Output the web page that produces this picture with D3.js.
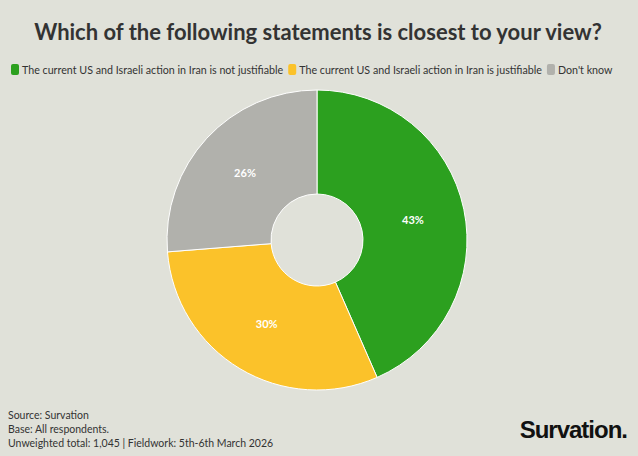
<!DOCTYPE html>
<html><head><meta charset="utf-8">
<script src="https://cdn.jsdelivr.net/npm/d3@7"></script>
<style>body{margin:0;background:#e0e1d9;font-family:Lato,"Open Sans",sans-serif}</style>
</head><body><div id="chart"></div>
<script>
// data
var labels = ["The current US and Israeli action in Iran is not justifiable",
              "The current US and Israeli action in Iran is justifiable",
              "Don't know"];
var values = [43, 30, 26];
var colors = ["#2ca01f", "#fbc22a", "#b1b1ac"];

var svg = d3.select("#chart").append("svg").attr("width", 638).attr("height", 456);
svg.append("rect").attr("width", 638).attr("height", 456).attr("fill", "#e0e1d9");

svg.append("text").attr("x", 318).attr("y", 40).attr("text-anchor", "middle")
  .attr("font-size", 22).attr("font-weight", "bold").attr("fill", "#333")
  .text("Which of the following statements is closest to your view?");

// legend
var lx = 11;
labels.forEach(function(l, i) {
  var g = svg.append("g").attr("transform", `translate(${lx},64)`);
  g.append("rect").attr("width", 8).attr("height", 11).attr("rx", 2).attr("fill", colors[i]);
  var t = g.append("text").attr("x", 11).attr("y", 10).attr("font-size", 10.7)
    .attr("fill", "#333").text(l);
  lx += 11 + t.node().getComputedTextLength() + 5;
});

var pie = d3.pie().sort(null)(values);
var arc = d3.arc().innerRadius(46).outerRadius(150);
var chart = svg.append("g").attr("transform", "translate(317,240)");
chart.selectAll("path").data(pie).enter().append("path")
  .attr("d", arc).attr("fill", (d, i) => colors[i])
  .attr("stroke", "#fff").attr("stroke-width", 1);
var labelArc = d3.arc().innerRadius(98).outerRadius(98);
chart.selectAll("text").data(pie).enter().append("text")
  .attr("transform", d => `translate(${labelArc.centroid(d)})`)
  .attr("text-anchor", "middle").attr("dy", "0.35em")
  .attr("font-size", 11).attr("font-weight", "bold").attr("fill", "#fff")
  .text(d => d.data + "%");

// footer
var foot = ["Source: Survation", "Base: All respondents.", "Unweighted total: 1,045 | Fieldwork: 5th-6th March 2026"];
foot.forEach(function(f, i) {
  svg.append("text").attr("x", 8).attr("y", 419 + i * 14).attr("font-size", 10.5)
    .attr("fill", "#333").text(f);
});
svg.append("text").attr("x", 627).attr("y", 438).attr("text-anchor", "end")
  .attr("font-family", "Liberation Sans, Arial").attr("font-weight", "bold")
  .attr("font-size", 24).attr("letter-spacing", -1).attr("fill", "#111").text("Survation.");
</script></body></html>
